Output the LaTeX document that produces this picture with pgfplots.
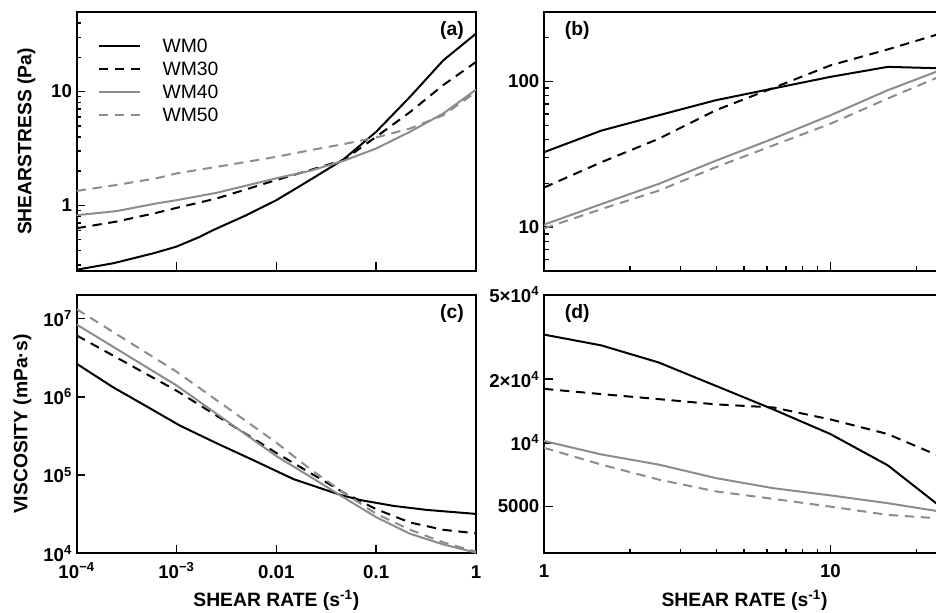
\documentclass[border=0pt]{standalone}
\usepackage{fontspec}
\setmainfont{Liberation Sans}
\usepackage{pgfplots}
\pgfplotsset{compat=1.18}

\definecolor{wmgray}{RGB}{140,140,140}

\tikzset{
  wm0/.style={black, line width=1.5pt},
  wm30/.style={black, line width=1.5pt, dash pattern=on 7pt off 5pt},
  wm40/.style={wmgray, line width=1.5pt},
  wm50/.style={wmgray, line width=1.5pt, dash pattern=on 7pt off 5pt},
  plabel/.style={font=\fontsize{14.5}{17}\selectfont\bfseries, anchor=center},
}
\pgfplotsset{
  panel/.style={
    scale only axis,
    axis line style={line width=1.3pt},
    every tick/.style={line width=1.1pt, black},
    major tick length=6.5pt, minor tick length=3.5pt,
    xtick pos=left, ytick pos=left, tick align=inside,
    xticklabel style={font=\fontsize{14}{16}\selectfont\bfseries, anchor=base, yshift=-18.5pt},
    yticklabel style={font=\fontsize{14}{16}\selectfont\bfseries},
    every axis x label/.style={at={(rel axis cs:0.5,-0.183)}, anchor=center,
      font=\fontsize{14.5}{17}\selectfont\bfseries},
  },
  ylab/.style={every axis y label/.style={at={(rel axis cs:#1,0.5)}, rotate=90, anchor=center,
      font=\fontsize{14.5}{17}\selectfont\bfseries}},
  nominorx/.style={every minor x tick/.style={draw=none}},
  nominory/.style={every minor y tick/.style={draw=none}},
}

\begin{document}
\begin{tikzpicture}
\useasboundingbox (0,0) rectangle (702pt,459pt);
\clip (0,0) rectangle (702pt,459pt);

% (a) shear stress, low shear rates
\begin{axis}[panel, nominorx, xmode=log, ymode=log,
  at={(57.5pt,255.75pt)}, anchor=south west,
  width=299.5pt, height=194.25pt,
  xmin=1e-4, xmax=1, ymin=0.265, ymax=50,
  xtick={1e-4,1e-3,0.01,0.1,1}, xticklabels={},
  ytick={1,10}, yticklabels={1,10},
  minor ytick={0.3,0.4,0.5,0.6,0.7,0.8,0.9,2,3,4,5,6,7,8,9,20,30,40},
  ylabel={SHEARSTRESS (Pa)}, ylab=-0.126,
  legend style={draw=none, fill=none, at={(rel axis cs:0.0525,0.902)}, anchor=north west,
    font=\fontsize{14.5}{17}\selectfont\mdseries, inner sep=0pt,
    nodes={inner sep=1pt, text height=10.5pt, text depth=0pt},
    row sep=4.7pt, column sep=15pt},
  legend cell align=left,
  legend image code/.code={\draw[#1] (0pt,0pt) -- (31pt,0pt);},
]
\addplot[wm0] coordinates {(1e-4,0.272) (2.33e-4,0.31) (5.86e-4,0.379) (1e-3,0.434) (1.72e-3,0.53) (2.34e-3,0.607) (5.04e-3,0.822) (0.01,1.11) (0.0217,1.67) (0.047,2.53) (0.1,4.43) (0.218,8.97) (0.47,18.8) (1,32.3)};
\addplot[wm30] coordinates {(1e-4,0.63) (2.5e-4,0.72) (6.3e-4,0.86) (1e-3,0.95) (2.53e-3,1.15) (0.01,1.67) (0.0217,2.04) (0.047,2.5) (0.1,4.0) (0.218,6.6) (0.47,11.4) (1,18.2)};
\addplot[wm40] coordinates {(1e-4,0.82) (2.5e-4,0.89) (6.3e-4,1.04) (1e-3,1.11) (2.53e-3,1.29) (0.01,1.73) (0.0217,2.01) (0.047,2.46) (0.1,3.16) (0.218,4.43) (0.47,6.41) (1,10.4)};
\addplot[wm50] coordinates {(1e-4,1.34) (2.5e-4,1.51) (6.3e-4,1.73) (1e-3,1.91) (2.53e-3,2.18) (0.01,2.67) (0.0217,3.05) (0.047,3.45) (0.1,3.95) (0.218,4.73) (0.47,6.2) (1,9.9)};
\legend{WM0,WM30,WM40,WM50}
\node[plabel] at (rel axis cs:0.94,0.93) {(a)};
\end{axis}

% (b) shear stress, high shear rates
\begin{axis}[panel, xmode=log, ymode=log,
  at={(408pt,255.75pt)}, anchor=south west,
  width=300.75pt, height=194.25pt,
  xmin=1, xmax=25.12, ymin=5, ymax=300,
  xtick={1,10}, xticklabels={},
  minor xtick={2,3,4,5,6,7,8,9,20},
  ytick={10,100}, yticklabels={10,100},
  minor ytick={6,7,8,9,20,30,40,50,60,70,80,90,200},
]
\addplot[wm0] coordinates {(1,32.7) (1.585,46) (2.512,58.6) (3.981,74.4) (6.31,89.5) (10,107.6) (15.85,126) (25.12,123)};
\addplot[wm30] coordinates {(1,18.7) (1.585,27.9) (2.512,40.4) (3.981,63.5) (6.31,90.3) (10,129) (15.85,166) (25.12,218)};
\addplot[wm40] coordinates {(1,10.4) (1.585,14.4) (2.512,19.8) (3.981,28.6) (6.31,40.5) (10,58.6) (15.85,87.1) (25.12,123)};
\addplot[wm50] coordinates {(1,9.8) (1.585,13.3) (2.512,17.8) (3.981,25.8) (6.31,36.4) (10,51.3) (15.85,76.4) (25.12,112)};
\node[plabel] at (rel axis cs:0.083,0.93) {(b)};
\end{axis}

% (c) viscosity, low shear rates
\begin{axis}[panel, nominorx, nominory, xmode=log, ymode=log,
  at={(57.5pt,44pt)}, anchor=south west,
  width=299.5pt, height=193.7pt,
  xmin=1e-4, xmax=1, ymin=1e4, ymax=2e7,
  xtick={1e-4,1e-3,0.01,0.1,1},
  xticklabels={10\textsuperscript{−4},10\textsuperscript{−3},0.01,0.1,1},
  ytick={1e4,1e5,1e6,1e7},
  yticklabels={10\textsuperscript{4},10\textsuperscript{5},10\textsuperscript{6},10\textsuperscript{7}},
  xlabel={SHEAR RATE (s\textsuperscript{-1})},
  ylabel={VISCOSITY (mPa·s)}, ylab=-0.136,
]
\addplot[wm0] coordinates {(1e-4,2.65e6) (2.33e-4,1.32e6) (4.64e-4,8.0e5) (1.08e-3,4.3e5) (2.53e-3,2.55e5) (5.89e-3,1.55e5) (0.0148,8.9e4) (0.0435,5.6e4) (0.0692,4.8e4) (0.149,4.04e4) (0.321,3.59e4) (1,3.19e4)};
\addplot[wm30] coordinates {(1e-4,6.1e6) (1e-3,1.2e6) (0.01,1.92e5) (0.047,6.0e4) (0.1,3.67e4) (0.218,2.48e4) (0.47,2.0e4) (1,1.8e4)};
\addplot[wm40] coordinates {(1e-4,8.4e6) (1e-3,1.4e6) (0.01,1.75e5) (0.0217,9.6e4) (0.047,5.2e4) (0.1,2.9e4) (0.218,1.78e4) (0.47,1.3e4) (1,1.02e4)};
\addplot[wm50] coordinates {(1e-4,1.32e7) (1e-3,2.1e6) (0.01,2.6e5) (0.0217,1.2e5) (0.047,6.0e4) (0.1,3.2e4) (0.219,2.0e4) (0.471,1.38e4) (1,1.05e4)};
\node[plabel] at (rel axis cs:0.94,0.928) {(c)};
\end{axis}

% (d) viscosity, high shear rates
\begin{axis}[panel, nominory, xmode=log, ymode=log,
  at={(408pt,44pt)}, anchor=south west,
  width=300.75pt, height=193.7pt,
  xmin=1, xmax=25.12, ymin=3000, ymax=5e4,
  xtick={1,10}, xticklabels={1,10},
  minor xtick={2,3,4,5,6,7,8,9,20},
  ytick={5000,1e4,2e4,5e4},
  yticklabels={5000,10\textsuperscript{4},2×10\textsuperscript{4},5×10\textsuperscript{4}},
  xlabel={SHEAR RATE (s\textsuperscript{-1})},
]
\addplot[wm0] coordinates {(1,32500) (1.585,28900) (2.512,24000) (3.981,18600) (6.31,14400) (10,11000) (15.85,7830) (25.12,4800)};
\addplot[wm30] coordinates {(1,18000) (1.585,17000) (2.512,16100) (3.981,15200) (6.31,14700) (10,12900) (15.85,11000) (25.12,8430)};
\addplot[wm40] coordinates {(1,10200) (1.585,8810) (2.512,7890) (3.981,6810) (6.31,6100) (10,5640) (15.85,5180) (25.12,4690)};
\addplot[wm50] coordinates {(1,9470) (1.585,7890) (2.512,6700) (3.981,5890) (6.31,5430) (10,4990) (15.85,4560) (25.12,4370)};
\node[plabel] at (rel axis cs:0.083,0.928) {(d)};
\end{axis}
\end{tikzpicture}
\end{document}
